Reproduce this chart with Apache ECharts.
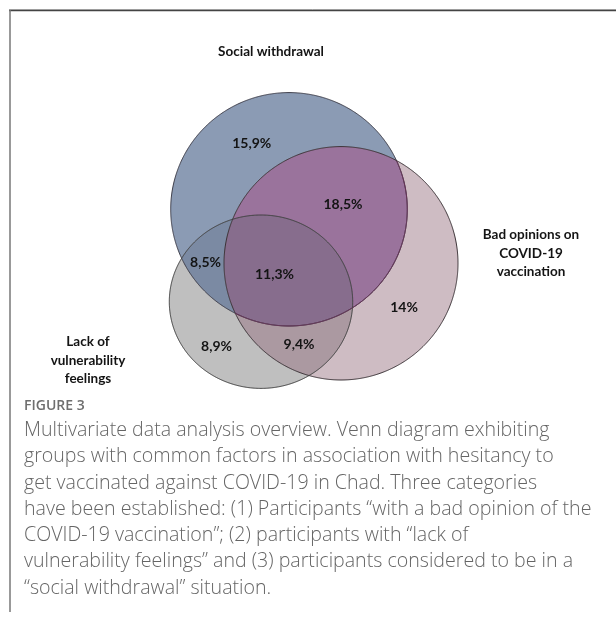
<!DOCTYPE html>
<html><head><meta charset="utf-8">
<script src="https://cdn.jsdelivr.net/npm/echarts@6/dist/echarts.min.js"></script>
<style>html,body{margin:0;padding:0;background:#fff}#c{width:616px;height:619px}</style>
</head><body><div id="c"></div>
<script>
// ---------- data ----------
const setNames = ['Social withdrawal', 'Bad opinions on\nCOVID-19\nvaccination', 'Lack of\nvulnerability\nfeelings'];
const regionSets = [[0], [1], [2], [0, 1], [0, 2], [1, 2], [0, 1, 2]];
const regionShares = [15.9, 14, 8.9, 18.5, 8.5, 9.4, 11.3];
const captionTitle = 'FIGURE 3';
const captionLines = [
  'Multivariate data analysis overview. Venn diagram exhibiting',
  'groups with common factors in association with hesitancy to',
  'get vaccinated against COVID-19 in Chad. Three categories',
  'have been established: (1) Participants \u201cwith a bad opinion of the',
  'COVID-19 vaccination\u201d; (2) participants with \u201clack of',
  'vulnerability feelings\u201d and (3) participants considered to be in a',
  '\u201csocial withdrawal\u201d situation.'
];

// ---------- layout & style ----------
const ellipses = [
  {cx: 289, cy: 209.3, rx: 118.3, ry: 116.7},
  {cx: 341, cy: 263.3, rx: 117, ry: 116.7},
  {cx: 261, cy: 301.7, rx: 91.7, ry: 86.7}
];
const regionColors = ['#8b9bb4', '#cebcc3', '#bfbfbf', '#9a739c', '#7b8aa3', '#ab99a1', '#876d8d'];
const regionLabelPos = [[251.7, 143.3], [404, 307.7], [216.5, 346.7], [343, 204.3], [205.5, 262.3], [299, 344.3], [274.5, 274.3]];
const setLabelPos = [[271, 51.5], [531, 253.3], [88, 360.5]];
const outlineColors = ['#3c3c48', '#3a3236', '#3c3c3c'];

function fmt(v) {
  return (Number.isInteger(v) ? String(v) : v.toFixed(1).replace('.', ',')) + '%';
}
function insideE(e, x, y) {
  const a = (x - e.cx) / e.rx, b = (y - e.cy) / e.ry;
  return a * a + b * b <= 1 + 1e-9;
}
const N = 720;
function ellPoint(e, k) {
  const t = 2 * Math.PI * k / N;
  return [e.cx + e.rx * Math.cos(t), e.cy + e.ry * Math.sin(t)];
}
function regionPolygon(s) {
  const pts = [];
  s.forEach(i => {
    for (let k = 0; k < N; k++) {
      const p = ellPoint(ellipses[i], k);
      if (s.every(j => j === i || insideE(ellipses[j], p[0], p[1]))) pts.push(p);
    }
  });
  let mx = 0, my = 0;
  pts.forEach(p => { mx += p[0]; my += p[1]; });
  mx /= pts.length; my /= pts.length;
  pts.sort((a, b) => Math.atan2(a[1] - my, a[0] - mx) - Math.atan2(b[1] - my, b[0] - mx));
  return pts;
}
function arcInside(i, j) {
  const e = ellipses[i];
  let start = 0;
  for (let k = 0; k < N; k++) { const p = ellPoint(e, k); if (!insideE(ellipses[j], p[0], p[1])) { start = k; break; } }
  const pts = [];
  for (let m = 0; m <= N; m++) {
    const p = ellPoint(e, (start + m) % N);
    if (insideE(ellipses[j], p[0], p[1])) pts.push(p);
  }
  return pts;
}

const chart = echarts.init(document.getElementById('c'), null, {renderer: 'canvas'});
const labelFont = 'Lato, "Open Sans", sans-serif';

chart.setOption({
  backgroundColor: '#ffffff',
  animation: false,
  grid: {left: 0, right: 0, top: 0, bottom: 0},
  xAxis: {type: 'value', min: 0, max: 616, show: false},
  yAxis: {type: 'value', min: 0, max: 619, inverse: true, show: false},
  series: [
    {
      type: 'custom', coordinateSystem: 'cartesian2d', clip: false, z: 2, silent: true,
      data: regionLabelPos,
      renderItem: function (params, api) {
        const pts = regionPolygon(regionSets[params.dataIndex]).map(p => api.coord(p));
        return {type: 'polygon', shape: {points: pts}, style: {fill: regionColors[params.dataIndex], stroke: null}};
      }
    },
    {
      type: 'custom', coordinateSystem: 'cartesian2d', clip: false, z: 3, silent: true,
      data: [[0, 0], [0, 0], [0, 0], [0, 0]],
      renderItem: function (params, api) {
        const i = params.dataIndex;
        if (i < 3) {
          const pts = [];
          for (let k = 0; k < N; k++) pts.push(api.coord(ellPoint(ellipses[i], k)));
          return {type: 'polygon', shape: {points: pts}, style: {fill: null, stroke: outlineColors[i], lineWidth: 1}};
        }
        const pts = arcInside(0, 1).map(p => api.coord(p));
        return {type: 'polyline', shape: {points: pts}, style: {fill: null, stroke: '#6a3358', lineWidth: 1}};
      }
    },
    {
      type: 'custom', coordinateSystem: 'cartesian2d', clip: false, z: 4, silent: true,
      data: regionLabelPos,
      renderItem: function (params, api) {
        const p = api.coord(regionLabelPos[params.dataIndex]);
        return {type: 'text', style: {text: fmt(regionShares[params.dataIndex]), x: p[0], y: p[1], align: 'center', verticalAlign: 'middle',
          fill: '#141414', font: 'bold 14px ' + labelFont}};
      }
    },
    {
      type: 'custom', coordinateSystem: 'cartesian2d', clip: false, z: 4, silent: true,
      data: setLabelPos,
      renderItem: function (params, api) {
        const p = api.coord(setLabelPos[params.dataIndex]);
        return {type: 'text', style: {text: setNames[params.dataIndex], x: p[0], y: p[1], align: 'center', verticalAlign: 'middle',
          fill: '#141414', font: 'bold 13.5px ' + labelFont, lineHeight: 18.5}};
      }
    }
  ],
  graphic: [
    {type: 'line', shape: {x1: 9, y1: 10.5, x2: 616, y2: 10.5}, style: {stroke: '#444', lineWidth: 1.5}, z: 10},
    {type: 'line', shape: {x1: 9, y1: 9.5, x2: 616, y2: 9.5}, style: {stroke: '#bbb', lineWidth: 1}, z: 9},
    {type: 'line', shape: {x1: 10, y1: 10, x2: 10, y2: 612}, style: {stroke: '#777', lineWidth: 1.5}, z: 10},
    {type: 'text', x: 24, y: 406.5, style: {text: captionTitle, fill: '#6e6e6e', font: '600 14px "Open Sans", sans-serif', verticalAlign: 'middle'}},
    {type: 'text', x: 24, y: 417.2, style: {text: captionLines.join('\n'), fill: '#656565', font: '300 19.6px "Open Sans", sans-serif', lineHeight: 26.3, verticalAlign: 'top'}}
  ]
});
</script></body></html>
